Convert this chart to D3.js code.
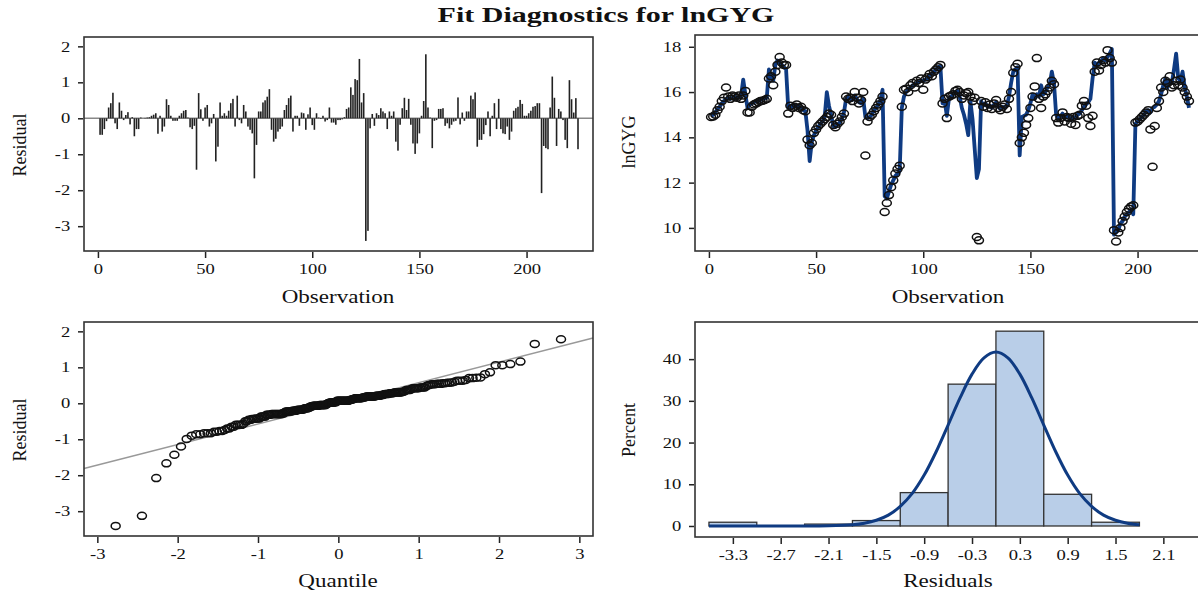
<!DOCTYPE html>
<html>
<head>
<meta charset="utf-8">
<script src="https://cdn.jsdelivr.net/npm/d3@7"></script>
<style>
  body { margin: 0; background: #fff; }
  svg { display: block; }
  text { font-family: "Liberation Serif", "Times New Roman", serif; fill: #111; }
</style>
</head>
<body>
<svg id="chart"></svg>
<script>
// residuals by observation
const residuals = [
  -0.46,-0.46,-0.3,-0.08,0.3,0.42,0.71,-0.14,-0.3,0.44,
  0.21,-0.05,0.09,0.17,-0.17,0.03,-0.5,-0.3,-0.3,0.02,
  0.0,0.01,0.02,0.03,0.07,0.1,0.14,-0.43,0.07,-0.37,
  -0.23,0.53,0.37,0.07,-0.07,-0.07,-0.07,0.07,0.14,0.21,
  0.23,0.02,-0.25,-0.3,-0.21,-1.43,0.7,0.25,-0.07,0.3,
  0.37,-0.23,-0.14,0.12,-1.2,-0.79,0.44,0.07,0.14,0.07,
  0.21,0.42,0.54,-0.23,0.63,-0.05,-0.14,0.37,0.19,-0.23,
  -0.32,-0.42,-1.67,-0.74,0.19,0.19,0.44,0.5,0.6,0.81,
  -0.32,-0.65,-0.57,-0.37,-0.3,-0.23,0.23,0.37,0.56,0.63,
  -0.37,0.07,0.07,-0.21,0.16,0.14,-0.32,0.11,0.3,-0.19,
  -0.32,0.14,0.02,-0.02,0.07,-0.09,-0.05,0.3,-0.12,-0.12,
  -0.18,-0.05,-0.05,-0.03,0.03,0.26,0.3,0.86,0.65,1.09,
  1.06,1.65,0.44,0.7,-3.41,-3.13,-0.28,0.12,-0.21,0.14,
  0.09,0.28,0.19,0.14,-0.3,0.19,0.07,0.19,-0.65,-0.9,
  -0.18,0.28,0.57,0.23,0.54,-0.18,-0.7,-0.99,-0.7,-0.42,
  0.07,0.48,1.78,0.3,0.02,-0.83,-0.07,-0.05,0.26,0.26,
  0.28,-0.21,-0.14,-0.28,-0.18,-0.09,-0.07,0.58,-0.17,0.16,
  -0.07,0.19,0.19,0.63,0.53,0.72,-0.79,-0.6,-0.6,-0.44,
  -0.19,0.19,-0.5,0.07,0.42,-0.3,0.54,-0.3,-0.42,-0.44,
  -0.23,-0.6,-0.37,0.21,0.28,0.32,0.51,0.4,0.07,0.07,
  0.14,0.21,0.32,0.34,0.42,0.42,-2.08,-0.77,-0.83,-0.86,
  0.3,1.16,0.57,-0.77,0.26,0.19,-0.05,-0.6,-0.83,1.06,
  0.53,0.16,0.56,-0.86
];

// observed lnGYG (circles)
const observed = [
  14.9,14.92,15.0,15.2,15.35,15.6,15.75,16.2,15.8,15.7,
  15.85,15.8,15.75,15.85,15.7,15.85,16.05,15.1,15.1,15.35,
  15.45,15.5,15.55,15.6,15.62,15.65,15.7,16.6,16.7,16.3,
  16.9,17.2,17.55,17.3,17.2,17.2,15.05,15.4,15.3,15.35,
  15.45,15.3,15.35,15.2,15.15,13.9,13.65,13.75,14.2,14.35,
  14.5,14.6,14.7,14.8,14.9,15.05,15.0,14.55,14.45,14.6,
  14.7,14.9,15.05,15.8,15.7,15.75,15.6,16.0,15.75,15.5,
  15.65,16.0,13.2,14.7,14.9,15.0,15.15,15.3,15.45,15.6,
  15.8,10.7,11.1,11.45,11.8,12.1,12.4,12.6,12.75,15.35,
  16.1,16.15,16.0,16.3,16.4,16.2,16.5,16.4,16.6,16.1,
  16.55,16.65,16.8,16.7,16.9,17.0,17.1,17.2,15.5,15.7,
  14.85,15.8,15.85,15.9,16.05,16.1,16.0,15.7,15.85,15.95,
  16.0,15.8,15.6,15.75,9.6,9.45,15.6,15.35,15.55,15.3,
  15.45,15.25,15.5,15.65,15.3,15.2,15.35,15.45,15.25,15.7,
  16.0,16.85,17.1,17.25,13.75,14.0,14.2,14.55,14.85,15.3,
  15.8,16.25,17.5,15.7,15.3,15.8,15.9,16.05,16.2,16.5,
  16.35,14.85,14.65,14.85,15.1,14.7,14.9,14.85,14.6,14.9,
  14.55,14.95,15.0,15.4,15.6,15.4,14.85,14.5,14.95,16.9,
  17.3,16.95,17.2,17.4,17.3,17.85,17.5,17.3,9.9,9.4,
  9.8,10.0,10.3,10.5,10.7,10.85,10.95,11.0,14.65,14.7,
  14.8,14.9,15.0,15.1,15.2,14.35,12.7,14.5,15.3,15.6,
  16.2,16.0,16.5,16.4,16.7,16.2,16.3,16.5,16.3,16.55,
  16.2,16.0,15.8,15.6
];

// predicted lnGYG (fit line)
const predicted = [
  14.95,15.0,15.1,15.25,15.35,15.5,15.6,15.7,15.75,15.7,
  15.75,15.8,15.7,15.8,15.85,16.55,15.9,15.3,15.45,15.5,
  15.55,15.6,15.6,15.65,15.7,15.72,15.75,17.0,16.6,16.5,
  17.2,17.4,17.3,17.2,17.1,17.0,15.3,15.4,15.35,15.4,
  15.4,15.35,15.3,15.2,15.15,14.3,12.95,13.8,14.1,14.3,
  14.45,14.6,14.7,14.9,16.0,15.4,15.0,14.5,14.45,14.55,
  14.65,14.8,15.1,15.7,15.75,15.7,15.65,15.85,15.7,15.55,
  15.5,15.7,14.9,14.85,14.9,15.0,15.2,15.3,15.45,15.65,
  16.1,11.4,11.3,11.6,11.9,12.1,12.3,12.4,12.5,15.3,
  15.8,16.0,16.1,16.2,16.3,16.3,16.4,16.45,16.5,16.5,
  16.55,16.6,16.75,16.8,16.9,17.0,17.1,17.15,15.5,15.6,
  14.95,15.7,15.8,15.9,16.0,16.05,15.8,15.3,15.0,14.6,
  14.1,15.6,14.8,13.5,12.2,12.6,15.6,15.4,15.5,15.35,
  15.4,15.3,15.45,15.55,15.35,15.25,15.35,15.3,15.4,15.8,
  16.4,16.9,17.0,17.1,13.2,14.9,14.95,15.0,15.2,15.5,
  15.9,15.7,15.9,15.8,16.3,15.9,16.0,16.2,16.35,16.9,
  16.4,15.0,14.85,14.9,15.05,14.85,14.9,14.9,14.75,14.9,
  14.85,15.0,15.05,15.2,15.35,15.45,15.55,15.7,16.6,17.3,
  17.2,17.3,17.35,17.5,17.4,17.55,17.7,17.9,9.7,9.8,
  9.9,10.2,10.3,10.5,10.6,10.7,10.8,10.6,14.6,14.7,
  14.8,14.9,15.0,15.15,15.2,15.1,15.3,15.35,15.45,15.6,
  15.9,16.3,16.6,16.2,16.5,16.4,17.0,17.7,16.6,16.5,
  16.9,16.2,15.8,15.3
];

// histogram of residuals
const binMids = [-3.3, -2.7, -2.1, -1.5, -0.9, -0.3, 0.3, 0.9, 1.5];
const binPercent = [0.9, 0, 0.45, 1.3, 8.0, 34.0, 46.7, 7.6, 0.9];
const binWidth = 0.6;
const histTicks = [-3.3, -2.7, -2.1, -1.5, -0.9, -0.3, 0.3, 0.9, 1.5, 2.1];

// normal curve over the histogram
const curveX = [-3.6,-2.1,-1.8,-1.65,-1.5,-1.35,-1.2,-1.05,-0.9,-0.75,-0.6,-0.45,-0.3,-0.15,0,
  0.15,0.3,0.45,0.6,0.75,0.9,1.05,1.2,1.35,1.5,1.65,1.8];
const curveY = [0,0.05,0.3,0.67,1.37,2.6,4.7,7.8,12.2,17.8,24.2,30.7,36.4,40.3,41.7,
  40.3,36.4,30.7,24.2,17.8,12.2,7.8,4.7,2.6,1.37,0.67,0.3];

// reference line of the Q-Q plot
const qqIntercept = 0;
const qqSlope = 0.573;

const obsTicks = [0, 50, 100, 150, 200];
const residTicks = [2, 1, 0, -1, -2, -3];
const lnTicks = [18, 16, 14, 12, 10];
const quantTicks = [-3, -2, -1, 0, 1, 2, 3];
const pctTicks = [0, 10, 20, 30, 40];

const W = 1198, H = 593;
const navy = '#0f3b82';
const stretch = 1.28;

const svg = d3.select('#chart').attr('width', W).attr('height', H);

// panels: left, right, top, bottom in pixels
const P1 = { l: 84, r: 593, t: 37, b: 251 };
const P2 = { l: 695, r: 1204, t: 35, b: 251 };
const P3 = { l: 84, r: 593, t: 322, b: 536 };
const P4 = { l: 695, r: 1204, t: 322, b: 537 };

function label(x, y, txt, o = {}) {
  const t = svg.append('text')
    .attr('transform', `translate(${x},${y}) scale(${o.sx || stretch},1)` + (o.rot ? ' rotate(-90)' : ''))
    .attr('text-anchor', o.anchor || 'middle')
    .attr('font-size', o.size || 18)
    .text(txt);
  if (o.bold) t.attr('font-weight', 'bold');
  return t;
}

function frame(p) {
  svg.append('rect')
    .attr('x', p.l).attr('y', p.t)
    .attr('width', p.r - p.l).attr('height', p.b - p.t)
    .attr('fill', 'none').attr('stroke', '#333').attr('stroke-width', 1.6);
}

// plain hyphen for negatives, like the original output
const hyph = dec => d => (dec ? d.toFixed(dec) : String(d));

function axes(p, x, y, xt, yt, fmtX) {
  const xa = d3.axisBottom(x).tickValues(xt).tickSize(6).tickSizeOuter(0).tickPadding(6)
    .tickFormat(fmtX || hyph(0));
  const ya = d3.axisLeft(y).tickValues(yt).tickSize(5).tickSizeOuter(0).tickPadding(5)
    .tickFormat(hyph(0));
  const gx = svg.append('g').attr('transform', `translate(0,${p.b + 1})`).call(xa);
  const gy = svg.append('g').attr('transform', `translate(${p.l - 1},0)`).call(ya);
  [gx, gy].forEach(g => {
    g.select('.domain').remove();
    g.selectAll('line').attr('stroke', '#222').attr('stroke-width', 1.5);
    g.selectAll('text')
      .attr('font-family', '"Liberation Serif", serif')
      .attr('font-size', 14.5).attr('fill', '#111')
      .attr('transform', `scale(${stretch},1)`);
  });
}

const obsIdx = residuals.map((d, i) => i + 1);
const obsDomain = [-6.5, 231];

// ---------- panel 1: residual by observation ----------
{
  const x = d3.scaleLinear().domain(obsDomain).range([P1.l, P1.r]);
  const y = d3.scaleLinear().domain([-3.69, 2.26]).range([P1.b, P1.t]);
  svg.append('line')
    .attr('x1', P1.l).attr('x2', P1.r).attr('y1', y(0)).attr('y2', y(0))
    .attr('stroke', '#888').attr('stroke-width', 1.5);
  svg.append('g').selectAll('rect')
    .data(residuals)
    .join('rect')
    .attr('x', (d, i) => x(obsIdx[i]) - 0.8)
    .attr('width', 1.6)
    .attr('y', d => Math.min(y(d), y(0)))
    .attr('height', d => Math.abs(y(d) - y(0)))
    .attr('fill', '#222');
  frame(P1);
  axes(P1, x, y, obsTicks, residTicks);
  label(338, 303, 'Observation');
  label(26, 145, 'Residual', { rot: true, sx: 1.1 });
}

// ---------- panel 2: lnGYG by observation ----------
{
  const x = d3.scaleLinear().domain(obsDomain).range([P2.l, P2.r]);
  const y = d3.scaleLinear().domain([8.98, 18.52]).range([P2.b, P2.t]);
  const line = d3.line().x((d, i) => x(obsIdx[i])).y(d => y(d));
  svg.append('path')
    .datum(predicted)
    .attr('d', line)
    .attr('fill', 'none').attr('stroke', navy).attr('stroke-width', 3.8)
    .attr('stroke-linejoin', 'round');
  svg.append('g').selectAll('ellipse')
    .data(observed)
    .join('ellipse')
    .attr('cx', (d, i) => x(obsIdx[i]))
    .attr('cy', d => y(d))
    .attr('rx', 4.5).attr('ry', 3.5)
    .attr('fill', 'none').attr('stroke', '#111').attr('stroke-width', 1.5);
  frame(P2);
  axes(P2, x, y, obsTicks, lnTicks);
  label(948, 303, 'Observation');
  label(635, 142, 'lnGYG', { rot: true, sx: 1.1 });
}

// ---------- panel 3: Q-Q plot ----------
{
  // inverse standard normal (Acklam)
  function qnorm(p) {
    const a = [-39.69683028665376, 220.9460984245205, -275.9285104469687, 138.3577518672690, -30.66479806614716, 2.506628277459239];
    const b = [-54.47609879822406, 161.5858368580409, -155.6989798598866, 66.80131188771972, -13.28068155288572];
    const c = [-0.007784894002430293, -0.3223964580411365, -2.400758277161838, -2.549732539343734, 4.374664141464968, 2.938163982698783];
    const dd = [0.007784695709041462, 0.3224671290700398, 2.445134137142996, 3.754408661907416];
    const pl = 0.02425;
    let q, r;
    if (p < pl) {
      q = Math.sqrt(-2 * Math.log(p));
      return (((((c[0]*q+c[1])*q+c[2])*q+c[3])*q+c[4])*q+c[5]) / ((((dd[0]*q+dd[1])*q+dd[2])*q+dd[3])*q+1);
    } else if (p <= 1 - pl) {
      q = p - 0.5; r = q * q;
      return (((((a[0]*r+a[1])*r+a[2])*r+a[3])*r+a[4])*r+a[5])*q / (((((b[0]*r+b[1])*r+b[2])*r+b[3])*r+b[4])*r+1);
    }
    q = Math.sqrt(-2 * Math.log(1 - p));
    return -(((((c[0]*q+c[1])*q+c[2])*q+c[3])*q+c[4])*q+c[5]) / ((((dd[0]*q+dd[1])*q+dd[2])*q+dd[3])*q+1);
  }
  const sorted = residuals.slice().sort(d3.ascending);
  const n = sorted.length;
  const qq = sorted.map((v, i) => ({ q: qnorm((i + 1 - 0.375) / (n + 0.25)), r: v }));

  const x = d3.scaleLinear().domain([-3.166, 3.17]).range([P3.l, P3.r]);
  const y = d3.scaleLinear().domain([-3.69, 2.26]).range([P3.b, P3.t]);
  svg.append('line')
    .attr('x1', x(-3.166)).attr('y1', y(qqIntercept + qqSlope * -3.166))
    .attr('x2', x(3.17)).attr('y2', y(qqIntercept + qqSlope * 3.17))
    .attr('stroke', '#999').attr('stroke-width', 1.5);
  svg.append('g').selectAll('ellipse')
    .data(qq)
    .join('ellipse')
    .attr('cx', d => x(d.q)).attr('cy', d => y(d.r))
    .attr('rx', 4.5).attr('ry', 3.5)
    .attr('fill', 'none').attr('stroke', '#111').attr('stroke-width', 1.5);
  frame(P3);
  axes(P3, x, y, quantTicks, residTicks);
  label(338, 587, 'Quantile');
  label(26, 430, 'Residual', { rot: true, sx: 1.1 });
}

// ---------- panel 4: histogram of residuals ----------
{
  const x = d3.scaleLinear().domain([-3.775, 2.61]).range([P4.l, P4.r]);
  const y = d3.scaleLinear().domain([-2.64, 48.9]).range([P4.b, P4.t]);
  svg.append('g').selectAll('rect')
    .data(binMids)
    .join('rect')
    .attr('x', d => x(d - binWidth / 2))
    .attr('width', d => x(d + binWidth / 2) - x(d - binWidth / 2))
    .attr('y', (d, i) => y(binPercent[i]))
    .attr('height', (d, i) => y(0) - y(binPercent[i]))
    .attr('fill', '#b9cee8').attr('stroke', '#333').attr('stroke-width', 1.3);
  const curve = d3.line().x(d => x(d[0])).y(d => y(d[1])).curve(d3.curveCatmullRom);
  svg.append('path')
    .datum(curveX.map((v, i) => [v, curveY[i]]))
    .attr('d', curve)
    .attr('fill', 'none').attr('stroke', navy).attr('stroke-width', 3);
  frame(P4);
  axes(P4, x, y, histTicks, pctTicks, hyph(1));
  label(948, 587, 'Residuals');
  label(635, 430, 'Percent', { rot: true, sx: 1.1 });
}

// title
label(606, 22, 'Fit Diagnostics for lnGYG', { bold: true, size: 20, sx: 1.5 });
</script>
</body>
</html>
